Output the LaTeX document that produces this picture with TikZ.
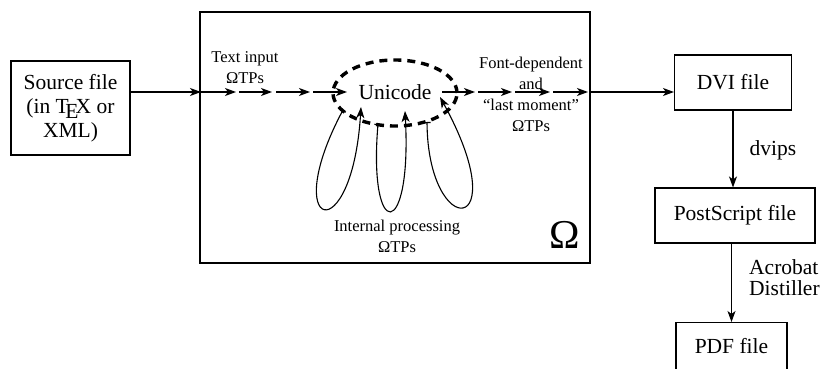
\documentclass[tikz,border=0pt]{standalone}
\usepackage{fontspec}
\setmainfont{Liberation Serif}
\usetikzlibrary{arrows.meta}
\begin{document}
\begin{tikzpicture}[x=1pt,y=-1pt,
  ln/.style={line width=1.1pt},
  arr/.style={ln,-{Stealth[length=11pt,width=8pt,inset=3pt]}},
  loop/.style={ln,{Bar[width=7pt,line width=1.2pt]}-{Stealth[length=11pt,width=8pt,inset=3pt]}},
  big/.style={font=\rmfamily\fontsize{21.5}{24}\selectfont},
  boxn/.style={draw,line width=1.1pt,inner sep=0pt,big,align=center},
  lbl/.style={font=\rmfamily\fontsize{16.5}{21}\selectfont,align=center,inner sep=0pt},
  dsh/.style={line width=3.4pt,dash pattern=on 8pt off 6pt}]
\useasboundingbox (0,0) rectangle (823,369);
% boxes
\node[boxn,minimum width=119pt,minimum height=94pt] (src) at (70.5,108) {Source file\\(in \TeX{} or\\XML)};
\node[draw,line width=1.1pt,minimum width=390pt,minimum height=251pt,inner sep=0pt] (omega) at (395,137.5) {};
\node[boxn,minimum width=117pt,minimum height=55pt] (dvi) at (733,82.5) {DVI file};
\node[boxn,minimum width=160pt,minimum height=55pt] (ps) at (735,215.5) {PostScript file};
\node[boxn,minimum width=111pt,minimum height=60pt,anchor=north] (pdf) at (731.5,322) {\raisebox{14pt}{PDF file}};
% unicode
\node[big,inner sep=0pt] (uni) at (395,92) {Unicode};
\draw[dsh] (395,93) ellipse [x radius=62pt, y radius=33pt];
\node[font=\rmfamily\fontsize{41}{44}\selectfont,inner sep=0pt] (om) at (565,235) {Ω};
% labels
\node[lbl] (tin) at (245,68) {Text input\\ΩTPs};
\node[lbl] (fd) at (531,94) {Font-dependent\\and\\\textquotedblleft last moment\textquotedblright\\ΩTPs};
\node[lbl] (ip) at (397,236) {Internal processing\\ΩTPs};
\node[big,inner sep=0pt] (dvl) at (773,150) {dvips};
\node[font=\rmfamily\fontsize{21.5}{21}\selectfont,align=left,inner sep=0pt,anchor=west] (acl) at (749,278) {Acrobat\\Distiller};
% coordinates on main line
\coordinate (a0) at (201,92);
\coordinate (a1) at (236,92);
\coordinate (a2) at (239,92);
\coordinate (a3) at (272,92);
\coordinate (a4) at (276,92);
\coordinate (a5) at (310,92);
\coordinate (a6) at (313,92);
\coordinate (a7) at (347,92);
\coordinate (b0) at (442,92);
\coordinate (b1) at (475,92);
\coordinate (b2) at (478,92);
\coordinate (b3) at (512,92);
\coordinate (b4) at (515,92);
\coordinate (b5) at (550,92);
\coordinate (b6) at (553,92);
\coordinate (b7) at (588,92);
\coordinate (b8) at (590,92);
\coordinate (dvin) at (dvi.west |- b8);
\coordinate (srcout) at (src.east |- a0);
\draw[arr] (srcout) -- (a0);
\draw[arr] (a0) -- (a1);
\draw[arr] (a2) -- (a3);
\draw[arr] (a4) -- (a5);
\draw[arr] (a6) -- (a7);
\draw[arr] (b0) -- (b1);
\draw[arr] (b2) -- (b3);
\draw[arr] (b4) -- (b5);
\draw[arr] (b6) -- (b7);
\draw[arr] (b8) -- (dvin);
\draw[arr] (dvi.south) -- (dvi.south |- ps.north);
\draw[arr] (ps.south -| pdf.north) -- (pdf.north);
% loops
\coordinate (l1s) at (343,110);
\coordinate (l1e) at (361,107);
\coordinate (l2s) at (378,124);
\coordinate (l2e) at (405,111);
\coordinate (l3s) at (427,122);
\coordinate (l3e) at (440,97);
\draw[loop] (l1s) .. controls (278,232) and (352,252) .. (l1e);
\draw[loop] (l2s) .. controls (368,242) and (412,242) .. (l2e);
\draw[loop] (l3s) .. controls (428,242) and (517,237) .. (l3e);
\end{tikzpicture}
\end{document}
